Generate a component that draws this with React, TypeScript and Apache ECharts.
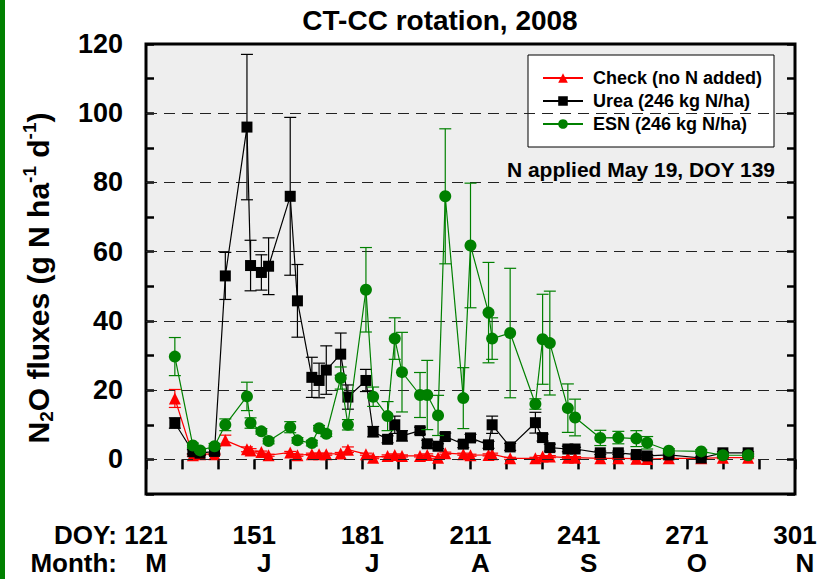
import React, { useEffect, useRef } from "react";
import * as echarts from "echarts";

const FONT = "'Liberation Sans', Arial, Helvetica, sans-serif";

const doy = [129, 134, 136, 140, 143, 149, 150, 153, 155, 161, 163, 167, 169, 171, 175, 177, 182, 184, 188, 190, 192, 197, 199, 202, 204, 209, 211, 216, 217, 222, 229, 231, 233, 238, 240, 247, 252, 257, 260, 266, 275, 281, 288];

const checkMean = [17.6, 1.2, 1.5, 1.5, 5.5, 2.9, 2.6, 2.1, 1.2, 2.0, 1.2, 1.5, 1.5, 1.5, 1.7, 2.8, 1.5, 0.5, 1.0, 1.3, 1.0, 1.0, 1.3, 0.5, 1.8, 1.5, 1.2, 1.3, 1.5, 0.3, 0.3, 0.8, 0.8, 0.5, 0.5, 0.3, 0.3, 0.2, 0.1, 0.3, 0.3, 0.5, 0.5];
const checkErr = [2.6, 0.3, 0.3, 0.3, 1.5, 0.7, 0.5, 0.3, 0.3, 0.3, 0.3, 0.3, 0.3, 0.3, 0.3, 0.8, 0.3, 0.3, 0.3, 0.3, 0.3, 0.3, 0.3, 0.3, 0.3, 0.3, 0.3, 0.3, 0.3, 0.3, 0.3, 0.3, 0.3, 0.3, 0.3, 0.3, 0.3, 0.3, 0.3, 0.3, 0.3, 0.3, 0.3];

const ureaMean = [10.5, 2.2, 1.8, 2.3, 53, 96, 56, 54, 55.8, 76, 45.8, 23.7, 22.8, 25.8, 30.4, 18, 22.8, 8, 5.8, 10, 6.8, 8.3, 4.5, 3.8, 6.6, 4.4, 6.2, 4.2, 10, 3.6, 10.6, 6.3, 3.4, 3.0, 3.0, 1.9, 1.9, 1.4, 1.0, 1.3, 0.4, 1.9, 1.9];
const ureaErr = [1.5, 0.6, 0.5, 0.8, 6.8, 21, 7.3, 5.1, 8.2, 22.8, 10.5, 5.8, 5, 7, 6.1, 3.5, 3.2, 1.5, 1, 2.5, 1.5, 1, 1, 0.7, 1, 1, 1, 1, 2.5, 1, 3, 1, 1, 0.8, 0.5, 0.5, 0.5, 0.4, 0.4, 0.3, 0.3, 0.3, 0.3];

const esnMean = [29.7, 4.0, 2.6, 3.8, 10, 18.2, 10.5, 8.1, 5.3, 9.3, 5.5, 4.7, 9.0, 7.4, 23.5, 10, 49, 18.1, 12.5, 34.9, 25.2, 18.6, 18.6, 12.7, 76, 17.7, 61.8, 42.4, 34.9, 36.5, 16, 34.7, 33.6, 14.8, 12.1, 6.2, 6.3, 6.0, 4.8, 2.5, 2.3, 1.2, 1.2];
const esnErr = [5.5, 0.7, 0.5, 0.8, 1.7, 4.1, 1.5, 0.8, 0.8, 1.6, 0.8, 0.8, 0.8, 0.8, 3.2, 1.5, 12.2, 2.8, 4.2, 6, 11.5, 6.5, 10, 5.8, 19.5, 8.8, 18, 14.5, 6, 18.7, 1.5, 13, 15, 7, 5.3, 2.2, 1.8, 2.3, 1.8, 0.6, 0.5, 0.3, 0.3];

const seriesNames = ["Check (no N added)", "Urea (246 kg N/ha)", "ESN (246 kg N/ha)"];
const seriesColors = ["#ff0000", "#000000", "#008000"];
const seriesSymbols = ["triangle", "rect", "circle"];
const seriesSizes = [12, 11, 12];

const doyTickLabels = [121, 151, 181, 211, 241, 271, 301];
const monthLabels = ["M", "J", "J", "A", "S", "O", "N"];
const gridLineValues = [0, 20, 40, 60, 80, 100];

function errData(mean: number[], err: number[]) {
  return doy.map((d, i) => [d, mean[i] - err[i], mean[i] + err[i]]);
}

function errRender(color: string) {
  return (params: any, api: any) => {
    const x = api.value(0);
    const lo = api.coord([x, api.value(1)]);
    const hi = api.coord([x, api.value(2)]);
    const w = 6;
    const style = { stroke: color, lineWidth: 1.2 };
    return {
      type: "group",
      children: [
        { type: "line", shape: { x1: lo[0], y1: lo[1], x2: hi[0], y2: hi[1] }, style },
        { type: "line", shape: { x1: hi[0] - w, y1: hi[1], x2: hi[0] + w, y2: hi[1] }, style },
        { type: "line", shape: { x1: lo[0] - w, y1: lo[1], x2: lo[0] + w, y2: lo[1] }, style },
      ],
    };
  };
}

export default function App() {
  const ref = useRef<HTMLDivElement>(null);
  useEffect(() => {
    if (!ref.current) return;
    const chart = echarts.init(ref.current, null, { renderer: "svg" });
    const means = [checkMean, ureaMean, esnMean];
    const errs = [checkErr, ureaErr, esnErr];
    const series: any[] = [
      {
        type: "line",
        data: [],
        z: 0,
        silent: true,
        markLine: {
          silent: true,
          symbol: ["none", "none"],
          label: { show: false },
          lineStyle: { type: [11, 7], color: "#222", width: 1 },
          data: gridLineValues.map((v) => ({ yAxis: v })),
        },
      },
    ];
    for (let k = 0; k < 3; k++) {
      series.push({
        type: "custom",
        name: seriesNames[k] + " err",
        renderItem: errRender(seriesColors[k]),
        data: errData(means[k], errs[k]),
        encode: { x: 0, y: [1, 2] },
        z: 2 + k * 2,
        silent: true,
      });
      series.push({
        type: "line",
        name: seriesNames[k],
        data: doy.map((d, i) => [d, means[k][i]]),
        symbol: seriesSymbols[k],
        symbolSize: seriesSizes[k],
        showSymbol: true,
        color: seriesColors[k],
        itemStyle: { color: seriesColors[k], opacity: 1 },
        lineStyle: { color: seriesColors[k], width: 1.2 },
        z: 3 + k * 2,
      });
    }

    const bottomLabel = {
      fontFamily: FONT,
      fontSize: 26,
      fontWeight: "bold",
      color: "#000",
      lineHeight: 22,
      margin: 30,
    };

    chart.setOption({
      animation: false,
      grid: {
        left: 146,
        right: 26,
        top: 44,
        bottom: 85,
        show: true,
        backgroundColor: "#eeeeee",
        borderColor: "#000",
        borderWidth: 3,
        containLabel: false,
        outerBoundsMode: "none",
      },
      legend: {
        data: seriesNames,
        orient: "vertical",
        left: 528,
        top: 55,
        padding: [14, 12, 14, 14],
        itemWidth: 40,
        itemHeight: 12,
        itemGap: 5,
        backgroundColor: "#ffffff",
        borderColor: "#000",
        borderWidth: 1,
        textStyle: { fontFamily: FONT, fontSize: 18, fontWeight: "bold", color: "#000", lineHeight: 18, padding: [0, 0, 0, 5] },
      },
      xAxis: [
        {
          type: "value",
          min: 121,
          max: 301,
          interval: 10,
          position: "bottom",
          axisLine: { show: false },
          splitLine: { show: false },
          axisTick: { show: true, inside: false, length: 10, lineStyle: { color: "#000", width: 2.5 } },
          axisLabel: {
            ...bottomLabel,
            formatter: (v: number) => (doyTickLabels.indexOf(v) >= 0 ? String(v) : ""),
          },
        },
        {
          type: "value",
          min: 121,
          max: 301,
          interval: 10,
          position: "bottom",
          offset: 28,
          axisLine: { show: false },
          splitLine: { show: false },
          axisTick: { show: false },
          axisLabel: {
            ...bottomLabel,
            padding: [0, 0, 0, 20],
            formatter: (v: number) => {
              const i = doyTickLabels.indexOf(v);
              return i >= 0 ? monthLabels[i] : "";
            },
          },
        },
      ],
      yAxis: [
        {
          type: "value",
          min: -10,
          max: 120,
          interval: 10,
          position: "left",
          axisLine: { show: false },
          splitLine: { show: false },
          axisTick: { show: true, inside: true, length: 8, lineStyle: { color: "#000", width: 2.5 } },
          axisLabel: {
            margin: 23,
            fontFamily: FONT,
            fontSize: 27,
            fontWeight: "bold",
            color: "#000",
            formatter: (v: number) => (v >= 0 && v % 20 === 0 ? String(v) : ""),
          },
        },
        {
          type: "value",
          min: -10,
          max: 120,
          interval: 10,
          position: "right",
          axisLine: { show: false },
          splitLine: { show: false },
          axisTick: { show: true, inside: true, length: 8, lineStyle: { color: "#000", width: 2.5 } },
          axisLabel: { show: false },
        },
      ],
      graphic: [
        { type: "rect", left: 0, top: 0, shape: { x: 0, y: 0, width: 5, height: 579 }, style: { fill: "#008000" }, z: 10 },
        {
          type: "text",
          x: 440,
          y: 20,
          style: { text: "CT-CC rotation, 2008", fontFamily: FONT, fontSize: 28, fontWeight: "bold", fill: "#000", align: "center", verticalAlign: "middle" },
        },
        {
          type: "text",
          x: 775,
          y: 169,
          z: 10,
          style: { text: "N applied May 19, DOY 139", fontFamily: FONT, fontSize: 21, fontWeight: "bold", fill: "#000", align: "right", verticalAlign: "middle" },
        },
        {
          type: "text",
          x: 117,
          y: 535,
          style: { text: "DOY:", fontFamily: FONT, fontSize: 26, lineHeight: 22, fontWeight: "bold", fill: "#000", align: "right", verticalAlign: "middle" },
        },
        {
          type: "text",
          x: 117,
          y: 563,
          style: { text: "Month:", fontFamily: FONT, fontSize: 26, lineHeight: 22, fontWeight: "bold", fill: "#000", align: "right", verticalAlign: "middle" },
        },
        {
          type: "text",
          x: 38,
          y: 278,
          rotation: Math.PI / 2,
          style: {
            text: "{m|N}{sub|2}{m|O fluxes (g N ha}{sup|-1}{m| d}{sup|-1}{m|)}",
            align: "center",
            verticalAlign: "middle",
            fill: "#000",
            rich: {
              m: { fontFamily: FONT, fontSize: 30, fontWeight: "bold", lineHeight: 36, verticalAlign: "middle", fill: "#000" },
              sup: { fontFamily: FONT, fontSize: 19, fontWeight: "bold", lineHeight: 18, verticalAlign: "top", fill: "#000" },
              sub: { fontFamily: FONT, fontSize: 19, fontWeight: "bold", lineHeight: 18, verticalAlign: "bottom", fill: "#000" },
            },
          },
        },
      ],
      series,
    });
    return () => chart.dispose();
  }, []);
  return <div ref={ref} style={{ position: "fixed", left: 0, top: 0, width: 821, height: 579, background: "#fff" }} />;
}
